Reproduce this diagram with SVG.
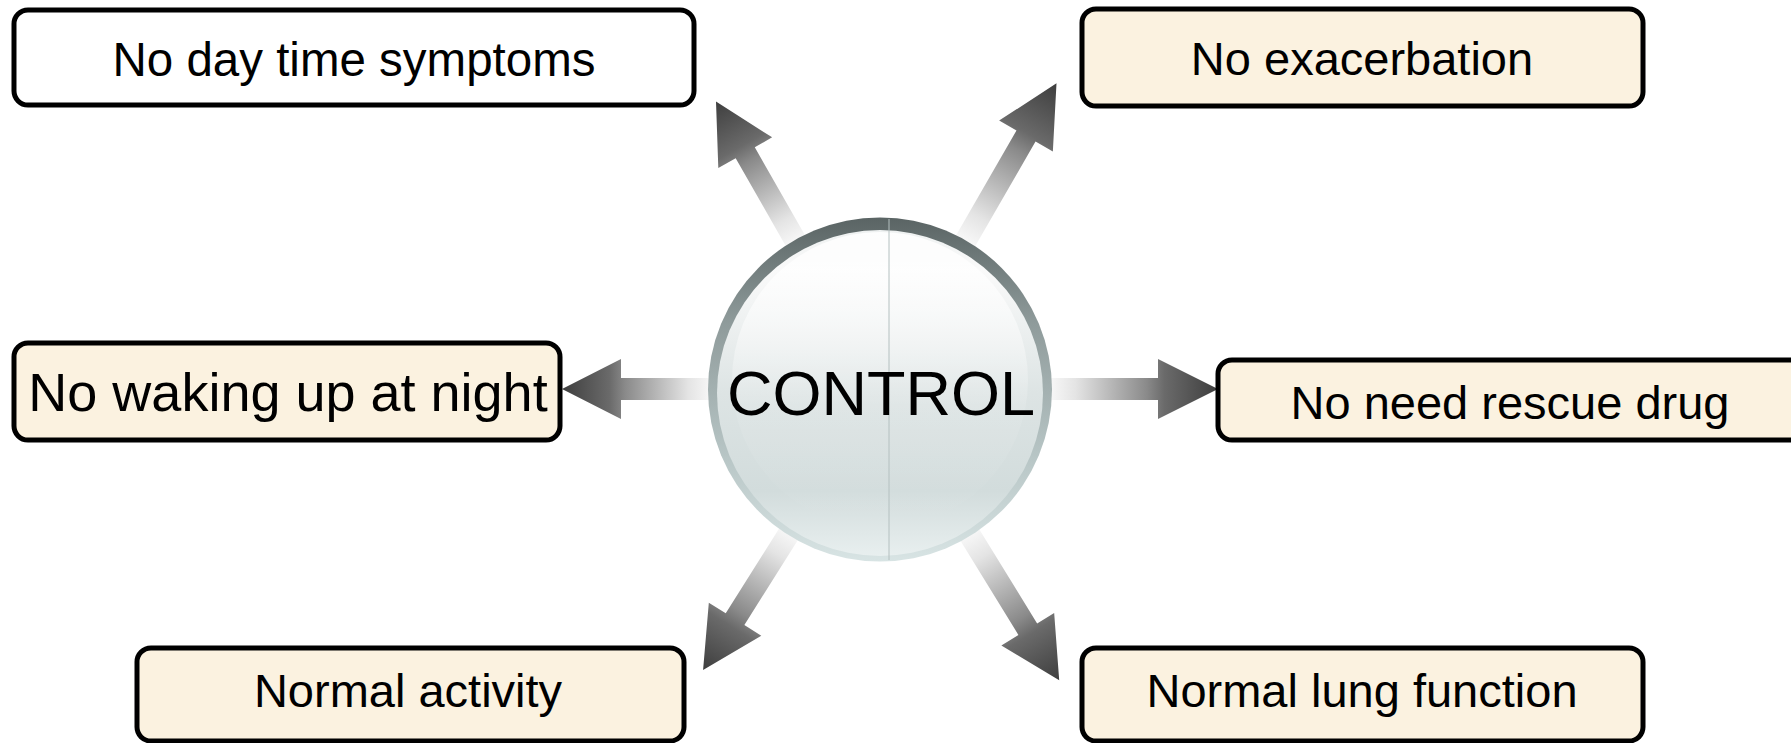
<svg xmlns="http://www.w3.org/2000/svg" width="1791" height="743" viewBox="0 0 1791 743">
<style>
.box{stroke:#000;stroke-width:5;}
.cream{fill:#FBF2E0;}
.white{fill:#FFFFFF;}
.lbl{font-family:"Liberation Sans",Arial,sans-serif;font-size:47px;fill:#000;text-anchor:middle;}
.arrow{fill:url(#arrGrad);}
</style>
<defs>
<linearGradient id="arrGrad" x1="0" y1="0" x2="1" y2="0">
<stop offset="0" stop-color="#ffffff"/>
<stop offset="0.2" stop-color="#e4e4e4"/>
<stop offset="0.6" stop-color="#8a8a8a"/>
<stop offset="0.7" stop-color="#6a6a6a"/>
<stop offset="1" stop-color="#3e3e3e"/>
</linearGradient>
<linearGradient id="ringGrad" x1="0" y1="0" x2="0" y2="1">
<stop offset="0" stop-color="#5a6464"/>
<stop offset="0.3" stop-color="#8e9a9a"/>
<stop offset="0.7" stop-color="#b8c6c6"/>
<stop offset="1" stop-color="#d8e4e4"/>
</linearGradient>
<linearGradient id="innerGrad" x1="0" y1="0" x2="0" y2="1">
<stop offset="0" stop-color="#eef1f1"/>
<stop offset="0.12" stop-color="#fafafa"/>
<stop offset="0.5" stop-color="#dde4e4"/>
<stop offset="0.8" stop-color="#d2dcdc"/>
<stop offset="1" stop-color="#e8efef"/>
</linearGradient>
<linearGradient id="hiGrad" x1="0" y1="0" x2="0" y2="1">
<stop offset="0" stop-color="#ffffff" stop-opacity="0.9"/>
<stop offset="0.6" stop-color="#ffffff" stop-opacity="0.1"/>
<stop offset="1" stop-color="#ffffff" stop-opacity="0"/>
</linearGradient>
</defs>

<g id="connectors">
<g transform="translate(880,389) rotate(-119.7)"><polygon class="arrow" points="160,-11 272,-11 272,-31 331,0 272,31 272,11 160,11"/></g>
<g transform="translate(880,389) rotate(-60)"><polygon class="arrow" points="160,-11 292,-11 292,-31 353,0 292,31 292,11 160,11"/></g>
<g transform="translate(880,389) rotate(180)"><polygon class="arrow" points="160,-11 259,-11 259,-30 318,0 259,30 259,11 160,11"/></g>
<g transform="translate(880,389)"><polygon class="arrow" points="160,-11 278,-11 278,-30 338,0 278,30 278,11 160,11"/></g>
<g transform="translate(880,389) rotate(122.2)"><polygon class="arrow" points="160,-11 272,-11 272,-31 332,0 272,31 272,11 160,11"/></g>
<g transform="translate(880,389) rotate(58.4)"><polygon class="arrow" points="160,-11 282,-11 282,-31 342,0 282,31 282,11 160,11"/></g>
</g>

<g id="control">
<circle cx="880" cy="389.5" r="172" fill="url(#ringGrad)"/>
<circle cx="880" cy="393" r="163" fill="url(#innerGrad)"/>
<circle cx="880" cy="380" r="148" fill="url(#hiGrad)"/>
<line x1="889" y1="219" x2="889" y2="560" stroke="#b4c0c0" stroke-width="1"/>
<text x="881" y="415" style="font-family:'Liberation Sans',Arial,sans-serif;font-size:63px;fill:#000;text-anchor:middle;">CONTROL</text>
</g>

<g id="n-daytime">
<rect class="box white" x="14" y="10" width="680" height="95" rx="14"/>
<text class="lbl" x="354" y="76" style="font-size:47.5px">No day time symptoms</text>
</g>
<g id="n-exacerbation">
<rect class="box cream" x="1082" y="9" width="561" height="97" rx="14"/>
<text class="lbl" x="1362" y="75">No exacerbation</text>
</g>
<g id="n-night">
<rect class="box cream" x="14" y="343" width="546" height="97" rx="14"/>
<text class="lbl" x="288" y="411" style="font-size:54px">No waking up at night</text>
</g>
<g id="n-rescue">
<rect class="box cream" x="1218" y="360" width="600" height="80" rx="14"/>
<text class="lbl" x="1510" y="419">No need rescue drug</text>
</g>
<g id="n-activity">
<rect class="box cream" x="137" y="648" width="547" height="93" rx="14"/>
<text class="lbl" x="408" y="707">Normal activity</text>
</g>
<g id="n-lung">
<rect class="box cream" x="1082" y="648" width="561" height="93" rx="14"/>
<text class="lbl" x="1362" y="707">Normal lung function</text>
</g>
</svg>
